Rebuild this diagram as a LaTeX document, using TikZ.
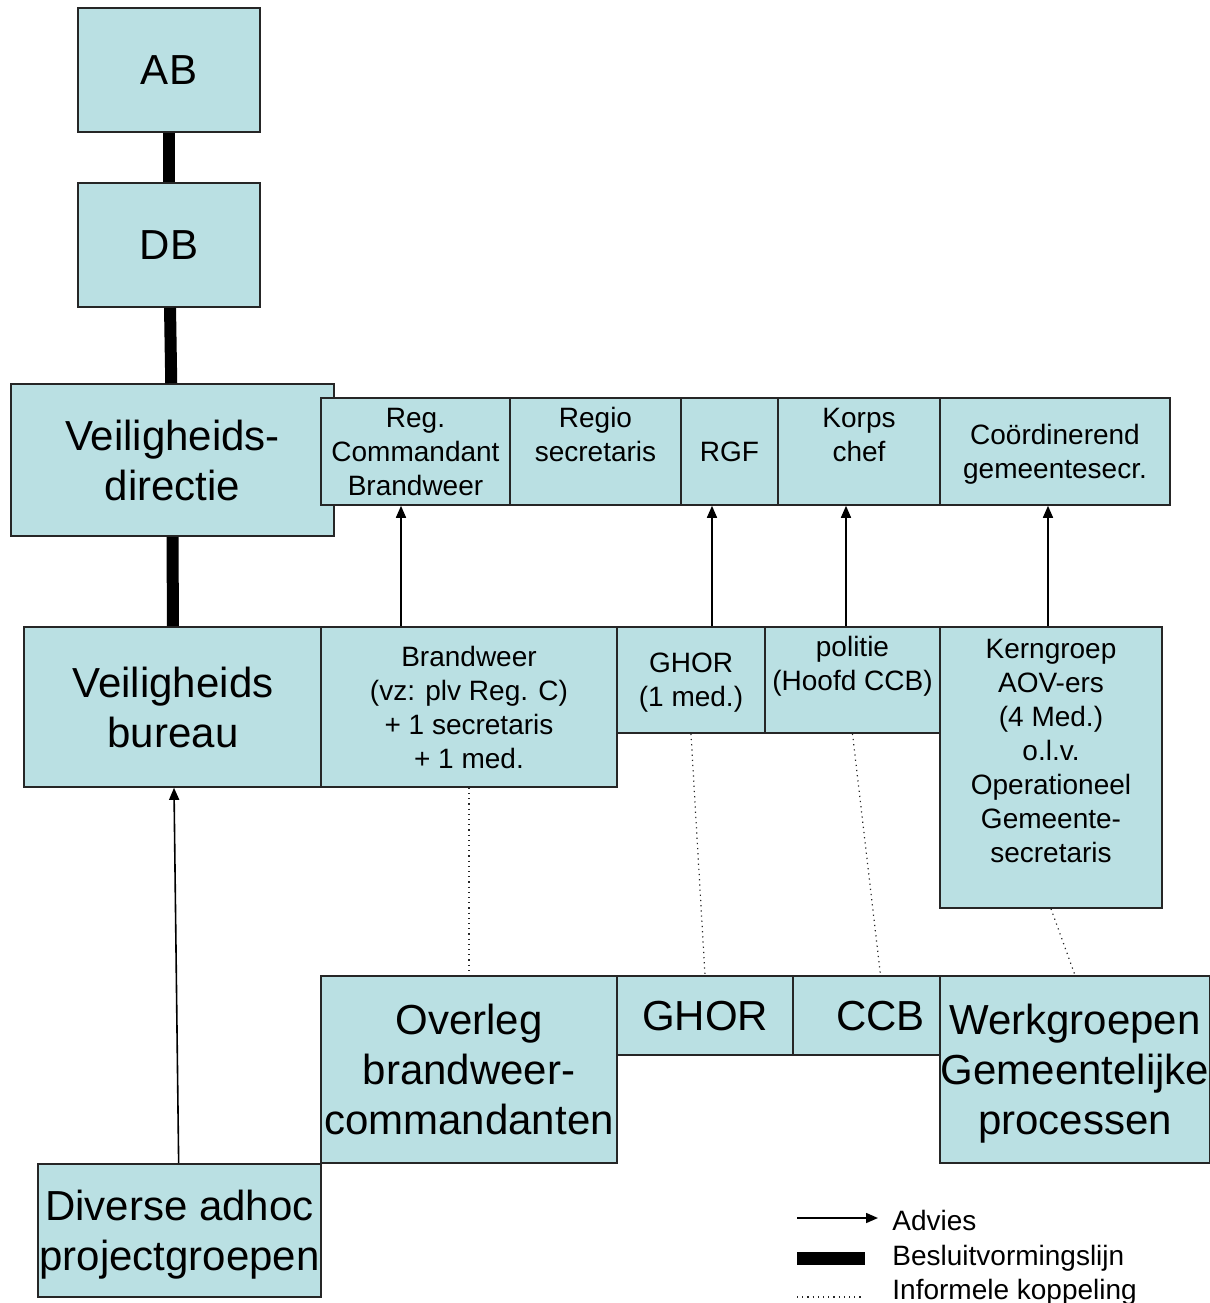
\documentclass[tikz,border=0pt]{standalone}
\usepackage{fontspec}
\setmainfont{Liberation Sans}
\usetikzlibrary{arrows.meta}
\definecolor{vakblauw}{RGB}{186,224,227}
\begin{document}
\begin{tikzpicture}[x=0.5pt,y=-0.5pt,
    vak/.style={draw=black!85,line width=0.8pt,fill=vakblauw,inner sep=0pt,align=center,text depth=0pt},
    groot/.style={vak,font=\fontsize{21}{25}\selectfont},
    klein/.style={vak,font=\fontsize{14}{17}\selectfont},
    besluit/.style={line width=6pt},
    advies/.style={line width=0.8pt,-{Triangle[length=6pt,width=5pt]}},
    informeel/.style={line width=0.6pt,dotted,black!85}]
  \useasboundingbox (0,0) rectangle (1210,1303);
  % bestuur
  \node[groot,minimum width=91pt,minimum height=62pt] (ab) at (169,70) {AB};
  \node[groot,minimum width=91pt,minimum height=62pt] (db) at (169,245) {DB};
  \node[groot,minimum width=161.5pt,minimum height=76pt] (vdir) at (172.5,460) {Veiligheids-\\directie};
  % leden directie
  \node[klein,minimum width=94.5pt,minimum height=53.5pt] (regcmd) at (415.5,451.5) {Reg.\\Commandant\\Brandweer};
  \node[klein,minimum width=85.5pt,minimum height=53.5pt,text depth=-1pt] (regsec) at (595.5,451.5) {Regio\\secretaris\\\mbox{}};
  \node[klein,minimum width=48.5pt,minimum height=53.5pt] (rgf) at (729.5,451.5) {RGF};
  \node[klein,minimum width=81pt,minimum height=53.5pt,text depth=-1pt] (korps) at (859,451.5) {Korps\\chef\\\mbox{}};
  \node[klein,minimum width=115pt,minimum height=53.5pt] (coord) at (1055,451.5) {Coördinerend\\gemeentesecr.};
  % bureau
  \node[groot,minimum width=149pt,minimum height=80pt] (vbur) at (173,707) {Veiligheids\\bureau};
  \node[klein,minimum width=148pt,minimum height=80pt] (bw) at (469,707) {Brandweer\\(vz: plv Reg. C)\\+ 1 secretaris\\+ 1 med.};
  \node[klein,minimum width=74pt,minimum height=53pt] (ghor) at (691,680) {GHOR\\(1 med.)};
  \node[klein,minimum width=87.5pt,minimum height=53pt,text depth=-1pt] (pol) at (852.5,680) {politie\\(Hoofd CCB)\\\mbox{}};
  \node[klein,minimum width=111pt,minimum height=140.5pt,text depth=-1pt] (kern) at (1051,767.5) {Kerngroep\\AOV-ers\\(4 Med.)\\o.l.v.\\Operationeel\\Gemeente-\\secretaris\\\mbox{}};
  % overleggen
  \node[groot,minimum width=148pt,minimum height=93.5pt] (overleg) at (469,1069.5) {Overleg\\brandweer-\\commandanten};
  \node[groot,minimum width=88pt,minimum height=39.5pt,text depth=-2.5pt] (ghorb) at (705,1015.5) {GHOR};
  \node[groot,minimum width=73.5pt,minimum height=39.5pt,text depth=-2.5pt] (ccb) at (866.5,1015.5) {\hspace*{14pt}CCB};
  \node[groot,minimum width=135pt,minimum height=93.5pt] (werk) at (1075,1069.5) {Werkgroepen\\Gemeentelijke\\processen};
  \node[groot,minimum width=141.5pt,minimum height=66.5pt] (div) at (179.5,1230.5) {Diverse adhoc\\projectgroepen};
  % besluitvormingslijn
  \draw[besluit] (ab) -- (db);
  \draw[besluit] (db) -- (vdir);
  \draw[besluit] (vdir) -- (vbur);
  % advies
  \draw[advies] (div) -- (vbur);
  \draw[advies] ([xshift=-34pt]bw.north) -- ([xshift=-7.25pt]regcmd.south);
  \draw[advies] ([xshift=10.5pt]ghor.north) -- ([xshift=-8.75pt]rgf.south);
  \draw[advies] ([xshift=-3.25pt]pol.north) -- ([xshift=-6.5pt]korps.south);
  \draw[advies] ([xshift=-1.5pt]kern.north) -- ([xshift=-3.5pt]coord.south);
  % informele koppeling
  \draw[informeel] (bw) -- (overleg);
  \draw[informeel] (ghor.south) -- (ghorb.north);
  \draw[informeel] (pol.south) -- ([xshift=7pt]ccb.north);
  \draw[informeel] (kern.south) -- (werk.north);
  % legenda
  \coordinate (l1a) at (797,1218);
  \coordinate (l1b) at (878,1218);
  \coordinate (l2a) at (797,1258);
  \coordinate (l2b) at (865,1258);
  \coordinate (l3a) at (797,1297);
  \coordinate (l3b) at (862,1297);
  \draw[advies] (l1a) -- (l1b);
  \draw[line width=6.5pt] (l2a) -- (l2b);
  \draw[informeel] (l3a) -- (l3b);
  \begin{scope}[every node/.style={anchor=base west,inner sep=0pt,font=\fontsize{14}{17}\selectfont}]
    \node (ladv) at (892,1230) {Advies};
    \node (lbes) at (892,1265) {Besluitvormingslijn};
    \node (linf) at (892,1299) {Informele koppeling};
  \end{scope}
\end{tikzpicture}
\end{document}
